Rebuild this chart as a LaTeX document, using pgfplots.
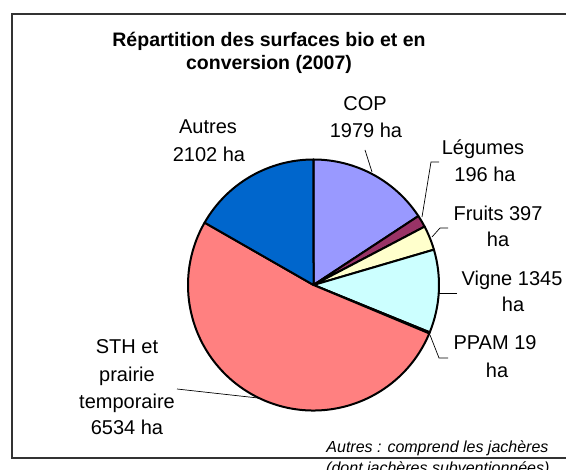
\documentclass[border=0pt]{standalone}
\usepackage{pgfplots}
\pgfplotsset{compat=1.18}
\usepackage{fontspec}
\setmainfont{Liberation Sans}
\definecolor{cCOP}{HTML}{9999FF}
\definecolor{cLeg}{HTML}{993366}
\definecolor{cFru}{HTML}{FFFFCC}
\definecolor{cVig}{HTML}{CCFFFF}
\definecolor{cPPA}{HTML}{660066}
\definecolor{cSTH}{HTML}{FF8080}
\definecolor{cAut}{HTML}{0066CC}
\definecolor{frame}{HTML}{333333}
% surfaces (ha)
\def\vCOP{1979}\def\vLeg{196}\def\vFru{397}\def\vVig{1345}\def\vPPA{19}\def\vSTH{6534}\def\vAut{2102}
\pgfmathsetmacro\T{\vCOP+\vLeg+\vFru+\vVig+\vPPA+\vSTH+\vAut}
\pgfmathsetmacro\aA{90}
\pgfmathsetmacro\aB{\aA-\vCOP/\T*360}
\pgfmathsetmacro\aC{\aB-\vLeg/\T*360}
\pgfmathsetmacro\aD{\aC-\vFru/\T*360}
\pgfmathsetmacro\aE{\aD-\vVig/\T*360}
\pgfmathsetmacro\aF{\aE-\vPPA/\T*360}
\pgfmathsetmacro\aG{\aF-\vSTH/\T*360}
\pgfmathsetmacro\aH{\aG-\vAut/\T*360}
\def\cx{313.5}\def\cy{185}\def\R{125.5}
\newcommand\lab{\fontsize{20bp}{27bp}\selectfont}
\tikzset{slice/.style={draw=black, line width=2bp, line join=round}}
\begin{document}
\begin{tikzpicture}[x=1bp,y=1bp]
\begin{axis}[x=1bp,y=1bp,xmin=0,xmax=566,ymin=0,ymax=470,
  hide axis, at={(0,0)}, anchor=origin, clip=false]
\draw[frame, line width=2bp] (axis cs:12,12) rectangle (axis cs:590,456);
% slices
\filldraw[fill=cCOP, slice] (axis cs:\cx,\cy) -- (axis cs:{\cx+\R*cos(\aA)},{\cy+\R*sin(\aA)}) arc[start angle=\aA, end angle=\aB, radius=\R bp] -- cycle;
\filldraw[fill=cLeg, slice] (axis cs:\cx,\cy) -- (axis cs:{\cx+\R*cos(\aB)},{\cy+\R*sin(\aB)}) arc[start angle=\aB, end angle=\aC, radius=\R bp] -- cycle;
\filldraw[fill=cFru, slice] (axis cs:\cx,\cy) -- (axis cs:{\cx+\R*cos(\aC)},{\cy+\R*sin(\aC)}) arc[start angle=\aC, end angle=\aD, radius=\R bp] -- cycle;
\filldraw[fill=cVig, slice] (axis cs:\cx,\cy) -- (axis cs:{\cx+\R*cos(\aD)},{\cy+\R*sin(\aD)}) arc[start angle=\aD, end angle=\aE, radius=\R bp] -- cycle;
\filldraw[fill=cPPA, slice] (axis cs:\cx,\cy) -- (axis cs:{\cx+\R*cos(\aE)},{\cy+\R*sin(\aE)}) arc[start angle=\aE, end angle=\aF, radius=\R bp] -- cycle;
\filldraw[fill=cSTH, slice] (axis cs:\cx,\cy) -- (axis cs:{\cx+\R*cos(\aF)},{\cy+\R*sin(\aF)}) arc[start angle=\aF, end angle=\aG, radius=\R bp] -- cycle;
\filldraw[fill=cAut, slice] (axis cs:\cx,\cy) -- (axis cs:{\cx+\R*cos(\aG)},{\cy+\R*sin(\aG)}) arc[start angle=\aG, end angle=\aH, radius=\R bp] -- cycle;
% leader lines
\draw[black, line width=0.7bp] (axis cs:365,320) -- (axis cs:372,298);
\draw[black, line width=0.7bp] (axis cs:439,308) -- (axis cs:431,308) -- (axis cs:422,253);
\draw[black, line width=0.7bp] (axis cs:448,242) -- (axis cs:440,242) -- (axis cs:432,233);
\draw[black, line width=0.7bp] (axis cs:457,177) -- (axis cs:439,177);
\draw[black, line width=0.7bp] (axis cs:448,112) -- (axis cs:439,112) -- (axis cs:430,135);
\draw[black, line width=0.7bp] (axis cs:177,81) -- (axis cs:258,72);
% title
\node[anchor=base, font=\fontsize{19.5bp}{23bp}\selectfont\bfseries] at (axis cs:269,423) {Répartition des surfaces bio et en};
\node[anchor=base, font=\fontsize{19.5bp}{23bp}\selectfont\bfseries] at (axis cs:269,400) {conversion (2007)};
% labels
\node[anchor=base, font=\lab] at (axis cs:365,359) {COP};
\node[anchor=base, font=\lab] at (axis cs:366,332) {1979 ha};
\node[anchor=base, font=\lab] at (axis cs:208,336) {Autres};
\node[anchor=base, font=\lab] at (axis cs:209,308) {2102 ha};
\node[anchor=base, font=\lab] at (axis cs:483,315) {Légumes};
\node[anchor=base, font=\lab] at (axis cs:485,288) {196 ha};
\node[anchor=base, font=\lab] at (axis cs:498,249) {Fruits 397};
\node[anchor=base, font=\lab] at (axis cs:498,223) {ha};
\node[anchor=base, font=\lab] at (axis cs:512,184) {Vigne 1345};
\node[anchor=base, font=\lab] at (axis cs:513,158) {ha};
\node[anchor=base, font=\lab] at (axis cs:495,120) {PPAM 19};
\node[anchor=base, font=\lab] at (axis cs:497,92) {ha};
\node[anchor=base, font=\lab] at (axis cs:127,116) {STH et};
\node[anchor=base, font=\lab] at (axis cs:127,88.5) {prairie};
\node[anchor=base, font=\lab] at (axis cs:127,61) {temporaire};
\node[anchor=base, font=\lab] at (axis cs:127,35) {6534 ha};
% footnote
\node[anchor=base east, font=\fontsize{16bp}{19bp}\selectfont\itshape] at (axis cs:552,17.5) {Autres : comprend les jachères};
\node[anchor=base east, font=\fontsize{16bp}{19bp}\selectfont\itshape] at (axis cs:553,-3.5) {(dont jachères subventionnées)};
\end{axis}
\pgfresetboundingbox
\path[use as bounding box] (0,0) rectangle (566,470);
\end{tikzpicture}
\end{document}
